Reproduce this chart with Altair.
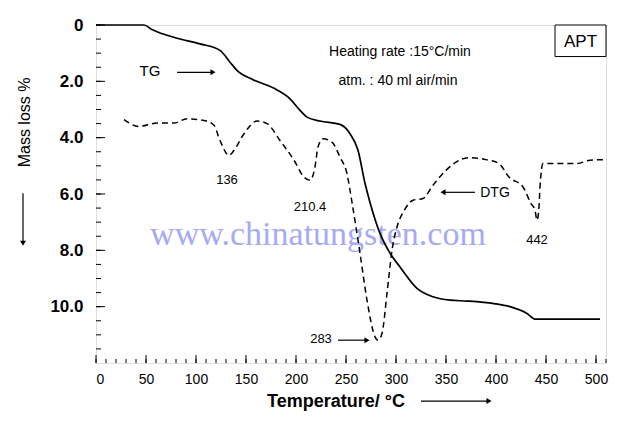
import altair as alt
import pandas as pd

# ---- data ----
tg_temp = [0, 48, 56, 81, 104, 124, 134, 141, 157, 177, 194, 204, 211, 224, 244, 254,
           262, 269, 274, 284, 294, 304, 321, 337, 354, 371, 398, 414, 431, 439, 504]
tg_mass = [0, 0, 0.16, 0.47, 0.67, 0.9, 1.32, 1.61, 1.94, 2.23, 2.62, 3.03, 3.27, 3.41, 3.53, 3.86,
           4.45, 5.62, 6.3, 7.4, 8.1, 8.59, 9.35, 9.65, 9.77, 9.8, 9.89, 10.0, 10.24, 10.44, 10.44]

dtg_temp = [28, 43, 61, 78, 91, 108, 118, 124, 133, 138, 148, 161, 171, 184, 198, 208, 214, 219,
            222, 227, 236, 244, 251, 256, 264, 271, 279, 282, 286, 291, 296, 301, 308, 317, 327,
            337, 350, 360, 373, 390, 403, 413, 427, 435, 439, 441, 443, 444, 447, 464, 481, 494, 509]
dtg_val = [3.36, 3.6, 3.48, 3.48, 3.33, 3.39, 3.56, 4.1, 4.63, 4.45, 3.86, 3.41, 3.5, 4.1, 4.8, 5.4,
           5.51, 5.04, 4.33, 4.04, 4.16, 4.69, 5.28, 6.3, 8.1, 9.77, 11.07, 11.19, 10.95, 9.53, 8.0,
           7.17, 6.6, 6.22, 6.16, 5.69, 5.16, 4.87, 4.71, 4.78, 4.92, 5.4, 5.75, 6.34, 6.58, 6.93,
           6.46, 5.75, 4.92, 4.92, 4.92, 4.8, 4.78]

x_major = [0, 50, 100, 150, 200, 250, 300, 350, 400, 450, 500]
x_minor = list(range(0, 511, 10))
y_major = [0, 2, 4, 6, 8, 10]
y_minor = [i * 0.5 for i in range(0, 24)]

labels_text = ["TG", "Heating rate :15°C/min", "atm. : 40 ml air/min", "136", "210.4",
               "283", "DTG", "442"]
labels_x = [54, 304, 302, 131, 214, 225, 399, 441]
labels_y = [1.65, 0.96, 2.0, 5.51, 6.47, 11.15, 5.97, 7.64]
labels_size = [15, 14, 14, 13, 13, 13, 14, 13]

# arrows: start -> tip
arr_x1 = [81, 242, 379, 325]
arr_x2 = [117, 271, 347, 393]
arr_y1 = [1.68, 11.19, 5.94, 13.35]
arr_y2 = [1.68, 11.19, 5.94, 13.35]
arr_shape = ["triangle-right", "triangle-right", "triangle-left", "triangle-right"]

W, H = 510, 338
FONT = "Liberation Sans"

xs = alt.Scale(domain=[0, 510], nice=False, zero=False)
ys = alt.Scale(domain=[0, 12], reverse=True, nice=False, zero=False)

tg_df = pd.DataFrame({"t": tg_temp, "m": tg_mass})
dtg_df = pd.DataFrame({"t": dtg_temp, "m": dtg_val})
lab_df = pd.DataFrame({"t": labels_x, "m": labels_y, "txt": labels_text, "s": labels_size})
arr_df = pd.DataFrame({"x1": arr_x1, "x2": arr_x2, "y1": arr_y1, "y2": arr_y2, "shape": arr_shape})

base_x = alt.X("t:Q", scale=xs,
               axis=alt.Axis(values=x_major, ticks=False, domain=False, grid=False, title=None,
                             labelFont=FONT, labelFontSize=14, labelPadding=9, labelColor="black"))
base_y = alt.Y("m:Q", scale=ys,
               axis=alt.Axis(values=y_major, ticks=False, domain=False, grid=False, title=None,
                             labelFont=FONT, labelFontSize=17, labelFontWeight="bold",
                             labelPadding=13, labelColor="black",
                             labelExpr="datum.value == 0 ? '0' : format(datum.value, '.1f')"))

tg = alt.Chart(tg_df).mark_line(color="black", strokeWidth=1.7, interpolate="monotone").encode(
    x=base_x, y=base_y)
dtg = alt.Chart(dtg_df).mark_line(color="black", strokeWidth=1.5, strokeDash=[6, 4],
                                  interpolate="monotone").encode(
    x=alt.X("t:Q", scale=xs), y=alt.Y("m:Q", scale=ys))

# inward ticks
xmaj = alt.Chart(pd.DataFrame({"t": x_major})).mark_rule(color="black", strokeWidth=1).encode(
    x=alt.X("t:Q", scale=xs), y=alt.value(H), y2=alt.value(H - 8))
xmin = alt.Chart(pd.DataFrame({"t": x_minor})).mark_rule(color="black", strokeWidth=1).encode(
    x=alt.X("t:Q", scale=xs), y=alt.value(H), y2=alt.value(H - 4))
ymaj = alt.Chart(pd.DataFrame({"m": y_major})).mark_rule(color="black", strokeWidth=1).encode(
    y=alt.Y("m:Q", scale=ys), x=alt.value(0), x2=alt.value(9))
ymin = alt.Chart(pd.DataFrame({"m": y_minor})).mark_rule(color="black", strokeWidth=1).encode(
    y=alt.Y("m:Q", scale=ys), x=alt.value(0), x2=alt.value(5))

# watermark
wm = alt.Chart(pd.DataFrame({"t": [222], "m": [7.45], "txt": ["www.chinatungsten.com"]})).mark_text(
    font="Liberation Serif", fontSize=34, color="#8a8ef0", opacity=0.75).encode(
    x=alt.X("t:Q", scale=xs), y=alt.Y("m:Q", scale=ys), text="txt:N")

labels = alt.Chart(lab_df).mark_text(font=FONT, color="black").encode(
    x=alt.X("t:Q", scale=xs), y=alt.Y("m:Q", scale=ys), text="txt:N",
    size=alt.Size("s:Q", scale=None, legend=None))

arrows = alt.Chart(arr_df).mark_rule(color="black", strokeWidth=1.2).encode(
    x=alt.X("x1:Q", scale=xs), x2="x2:Q", y=alt.Y("y1:Q", scale=ys), y2="y2:Q")
heads = alt.Chart(arr_df).mark_point(color="black", filled=True, size=35, opacity=1).encode(
    x=alt.X("x2:Q", scale=xs), y=alt.Y("y2:Q", scale=ys),
    shape=alt.Shape("shape:N", scale=None, legend=None))

# APT box
apt_box = alt.Chart(pd.DataFrame({"a": [459], "b": [510], "c": [0], "d": [1.12]})).mark_rect(
    fill="white", stroke="black", strokeWidth=1).encode(
    x=alt.X("a:Q", scale=xs), x2="b:Q", y=alt.Y("c:Q", scale=ys), y2="d:Q")
apt_txt = alt.Chart(pd.DataFrame({"t": [484.5], "m": [0.6], "txt": ["APT"]})).mark_text(
    font=FONT, fontSize=17, color="black").encode(
    x=alt.X("t:Q", scale=xs), y=alt.Y("m:Q", scale=ys), text="txt:N")

# axis titles (outside the plot area)
xtitle = alt.Chart(pd.DataFrame({"t": [240], "m": [13.37], "txt": ["Temperature/ °C"]})).mark_text(
    font=FONT, fontSize=18, fontWeight="bold", color="black").encode(
    x=alt.X("t:Q", scale=xs), y=alt.Y("m:Q", scale=ys), text="txt:N")
ytitle = alt.Chart(pd.DataFrame({"t": [-71], "m": [3.46], "txt": ["Mass loss %"]})).mark_text(
    font=FONT, fontSize=16, color="black", angle=270).encode(
    x=alt.X("t:Q", scale=xs), y=alt.Y("m:Q", scale=ys), text="txt:N")
yarrow = alt.Chart(pd.DataFrame({"t": [-73], "a": [5.97], "b": [7.75]})).mark_rule(
    color="black", strokeWidth=1.2).encode(
    x=alt.X("t:Q", scale=xs), y=alt.Y("a:Q", scale=ys), y2="b:Q")
yhead = alt.Chart(pd.DataFrame({"t": [-73], "b": [7.75]})).mark_point(
    color="black", filled=True, size=35, opacity=1, shape="triangle-down").encode(
    x=alt.X("t:Q", scale=xs), y=alt.Y("b:Q", scale=ys))

chart = alt.layer(
    wm, tg, dtg, xmin, xmaj, ymin, ymaj, labels, arrows, heads, apt_box, apt_txt,
    xtitle, ytitle, yarrow, yhead
).properties(
    width=W, height=H, autosize=alt.AutoSizeParams(type="none"),
    padding={"left": 96, "top": 25, "right": 31, "bottom": 62}
).configure_view(stroke="black", strokeWidth=1.2).configure(background="white")

chart.save("out.html", embed_options={"renderer": "svg", "actions": False})
